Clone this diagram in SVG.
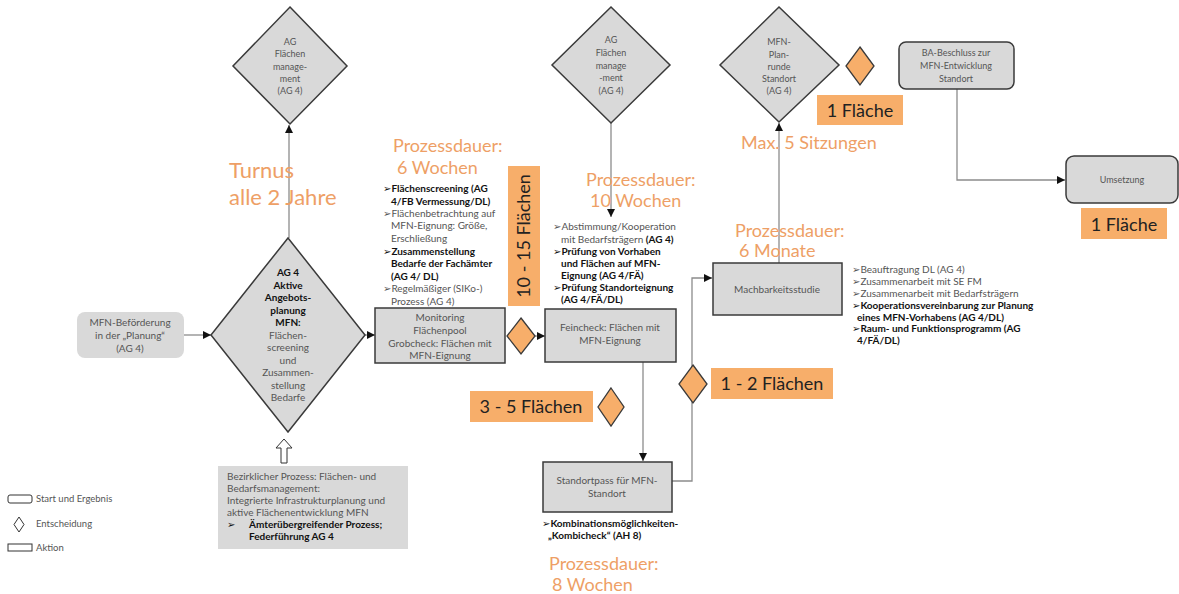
<svg xmlns="http://www.w3.org/2000/svg" width="1179" height="594" viewBox="0 0 1179 594">
<style>
text{font-family:Lato,"DejaVu Sans",sans-serif}
.bx{fill:#d9d9d9;stroke:#3a3a3a;stroke-width:1.5}
.sb{fill:#d9d9d9}
.dm{fill:#d9d9d9;stroke:#3a3a3a;stroke-width:1.5}
.od{fill:#f7ae6a;stroke:#3a3a3a;stroke-width:1.3}
.or{fill:#f7ae6a}
.t{font-size:10px;fill:#555;text-anchor:middle}
.tb{font-size:10px;fill:#111;font-weight:bold;text-anchor:middle}
.l{font-size:10px;fill:#555}
.lb{font-size:10px;fill:#111;font-weight:bold}
.big{font-size:18px;fill:#ee9f66}
.ot{font-size:18px;fill:#222}
.lg{font-size:9.5px;fill:#555}
.ln{fill:none;stroke:#8c8c8c;stroke-width:1.3}
</style>
<defs>
<marker id="ah" viewBox="0 0 10 10" refX="10" refY="5" markerWidth="8" markerHeight="8" markerUnits="userSpaceOnUse" orient="auto"><path d="M0,0 L10,5 L0,10 z" fill="#111"/></marker>
</defs>

<g id="connectors">
<path class="ln" d="M184,335 H211" marker-end="url(#ah)"/>
<path class="ln" d="M365,335 H375" marker-end="url(#ah)"/>
<path class="ln" d="M289,238 V125" marker-end="url(#ah)"/>
<path class="ln" d="M535,336 H545" marker-end="url(#ah)"/>
<path class="ln" d="M611,123 V217" marker-end="url(#ah)"/>
<path class="ln" d="M643,362 V461" marker-end="url(#ah)"/>
<path class="ln" d="M672,481 H692 V278 H712" marker-end="url(#ah)"/>
<path class="ln" d="M779,263 V123" marker-end="url(#ah)"/>
<path class="ln" d="M957,89 V180 H1065" marker-end="url(#ah)"/>
<polygon points="284,439 292,448 287,448 287,463 281,463 281,448 276,448" fill="#fff" stroke="#333" stroke-width="1"/>
</g>

<g id="start">
<rect class="sb" x="77" y="312" width="107" height="46" rx="8"/>
<text class="t"><tspan x="130" y="326">MFN-Beförderung</tspan><tspan x="130" y="339">in der „Planung“</tspan><tspan x="130" y="352">(AG 4)</tspan></text>
</g>

<g id="diamond-angebot">
<polygon class="dm" points="288,238 365,335 288,432 211,335"/>
<text class="tb"><tspan x="288" y="276">AG 4</tspan><tspan x="288" y="289">Aktive</tspan><tspan x="288" y="301">Angebots-</tspan><tspan x="288" y="314">planung</tspan><tspan x="288" y="326">MFN:</tspan></text>
<text class="t"><tspan x="288" y="339">Flächen-</tspan><tspan x="288" y="351">screening</tspan><tspan x="288" y="364">und</tspan><tspan x="288" y="376">Zusammen-</tspan><tspan x="288" y="389">stellung</tspan><tspan x="288" y="401">Bedarfe</tspan></text>
</g>

<g id="diamond-ag1">
<polygon class="dm" points="290,7 347,66 290,124 233,66"/>
<text class="t" style="font-size:9px"><tspan x="290" y="45">AG</tspan><tspan x="290" y="57">Flächen</tspan><tspan x="290" y="70">manage-</tspan><tspan x="290" y="82">ment</tspan><tspan x="290" y="94">(AG 4)</tspan></text>
</g>

<g id="turnus">
<text class="big" style="font-size:22px" x="229" y="178">Turnus</text>
<text class="big" style="font-size:22px" x="229" y="205">alle 2 Jahre</text>
</g>

<g id="pd6w">
<text class="big" x="393" y="152">Prozessdauer:</text>
<text class="big" x="397" y="174">6 Wochen</text>
</g>

<g id="list1">
<text class="lb" x="383" y="192">➢Flächenscreening (AG</text>
<text class="lb" x="391" y="205">4/FB Vermessung/DL)</text>
<text class="l" x="383" y="217">➢Flächenbetrachtung auf</text>
<text class="l" x="391" y="229">MFN-Eignung: Größe,</text>
<text class="l" x="391" y="242">Erschließung</text>
<text class="lb" x="383" y="255">➢Zusammenstellung</text>
<text class="lb" x="391" y="267">Bedarfe der Fachämter</text>
<text class="lb" x="391" y="280">(AG 4/ DL)</text>
<text class="l" x="383" y="292">➢Regelmäßiger (SIKo-)</text>
<text class="l" x="391" y="305">Prozess (AG 4)</text>
</g>

<g id="monitoring">
<rect class="bx" x="375" y="308" width="130" height="55"/>
<text class="t"><tspan x="440" y="321">Monitoring</tspan><tspan x="440" y="334">Flächenpool</tspan><tspan x="440" y="347">Grobcheck: Flächen mit</tspan><tspan x="440" y="359">MFN-Eignung</tspan></text>
</g>

<g id="f10-15">
<rect class="or" x="508" y="166" width="32" height="140"/>
<text class="ot" transform="translate(530,236) rotate(-90)" text-anchor="middle">10 - 15 Flächen</text>
</g>

<g id="dec1">
<polygon class="od" points="521,318 535,336 521,354 507,336"/>
</g>

<g id="diamond-ag2">
<polygon class="dm" points="611,7 670,65 611,123 552,65"/>
<text class="t" style="font-size:9px"><tspan x="611" y="43">AG</tspan><tspan x="611" y="56">Flächen</tspan><tspan x="611" y="69">manage</tspan><tspan x="611" y="81">-ment</tspan><tspan x="611" y="94">(AG 4)</tspan></text>
</g>

<g id="pd10w">
<text class="big" x="586" y="186">Prozessdauer:</text>
<text class="big" x="590" y="207">10 Wochen</text>
</g>

<g id="list2">
<text class="l" x="553" y="230">➢Abstimmung/Kooperation</text>
<text class="l" x="561" y="243">mit Bedarfsträgern <tspan class="lb">(AG 4)</tspan></text>
<text class="lb" x="553" y="255">➢Prüfung von Vorhaben</text>
<text class="lb" x="561" y="267">und Flächen auf MFN-</text>
<text class="lb" x="561" y="279">Eignung (AG 4/FÄ)</text>
<text class="lb" x="553" y="291">➢Prüfung Standorteignung</text>
<text class="lb" x="561" y="303">(AG 4/FÄ/DL)</text>
</g>

<g id="feincheck">
<rect class="bx" x="545" y="309" width="131" height="53"/>
<text class="t"><tspan x="610" y="331">Feincheck: Flächen mit</tspan><tspan x="610" y="344">MFN-Eignung</tspan></text>
</g>

<g id="f3-5">
<rect class="or" x="470" y="391" width="123" height="31"/>
<text class="ot" x="531" y="413" text-anchor="middle">3 - 5 Flächen</text>
<polygon class="od" points="611,388 624,407 611,426 598,407"/>
</g>

<g id="standortpass">
<rect class="bx" x="543" y="462" width="129" height="50"/>
<text class="t"><tspan x="607" y="484">Standortpass für MFN-</tspan><tspan x="607" y="497">Standort</tspan></text>
</g>

<g id="list3">
<text class="lb" x="542" y="527">➢Kombinationsmöglichkeiten-</text>
<text class="lb" x="548" y="539">„Kombicheck“ (AH 8)</text>
</g>

<g id="pd8w">
<text class="big" x="549" y="570">Prozessdauer:</text>
<text class="big" x="552" y="591">8 Wochen</text>
</g>

<g id="f1-2">
<polygon class="od" points="693,365 707,384 693,403 679,384"/>
<rect class="or" x="711" y="368" width="122" height="31"/>
<text class="ot" x="772" y="390" text-anchor="middle">1 - 2 Flächen</text>
</g>

<g id="machbarkeit">
<rect class="bx" x="713" y="263" width="129" height="52"/>
<text class="t" x="777" y="293">Machbarkeitsstudie</text>
</g>

<g id="pd6m">
<text class="big" x="735" y="237">Prozessdauer:</text>
<text class="big" x="739" y="257">6 Monate</text>
</g>

<g id="list4">
<text class="l" x="852" y="273">➢Beauftragung DL (AG 4)</text>
<text class="l" x="852" y="285">➢Zusammenarbeit mit SE FM</text>
<text class="l" x="852" y="297">➢Zusammenarbeit mit Bedarfsträgern</text>
<text class="lb" x="852" y="309">➢Kooperationsvereinbarung zur Planung</text>
<text class="lb" x="857" y="321">eines MFN-Vorhabens (AG 4/DL)</text>
<text class="lb" x="852" y="332">➢Raum- und Funktionsprogramm (AG</text>
<text class="lb" x="857" y="344">4/FÄ/DL)</text>
</g>

<g id="diamond-planrunde">
<polygon class="dm" points="779,7 839,65 779,122 720,65"/>
<text class="t" style="font-size:9px"><tspan x="779" y="45">MFN-</tspan><tspan x="779" y="58">Plan-</tspan><tspan x="779" y="70">runde</tspan><tspan x="779" y="82">Standort</tspan><tspan x="779" y="94">(AG 4)</tspan></text>
</g>

<g id="f1a">
<polygon class="od" points="860,47 874,66 860,85 846,66"/>
<rect class="or" x="817" y="95" width="86" height="30"/>
<text class="ot" x="860" y="117" text-anchor="middle">1 Fläche</text>
</g>

<g id="max5">
<text class="big" x="741" y="149">Max. 5 Sitzungen</text>
</g>

<g id="ba">
<rect class="bx" x="899" y="42" width="115" height="47" rx="7"/>
<text class="t" style="font-size:9px"><tspan x="956" y="56">BA-Beschluss zur</tspan><tspan x="956" y="69">MFN-Entwicklung</tspan><tspan x="956" y="82">Standort</tspan></text>
</g>

<g id="umsetzung">
<rect class="bx" x="1066" y="156" width="112" height="47" rx="8"/>
<text class="t" style="font-size:9px" x="1122" y="183">Umsetzung</text>
<rect class="or" x="1081" y="208" width="86" height="31"/>
<text class="ot" x="1124" y="231" text-anchor="middle">1 Fläche</text>
</g>

<g id="bezirk">
<rect class="sb" x="218" y="466" width="190" height="83"/>
<text class="l" x="227" y="480">Bezirklicher Prozess: Flächen- und</text>
<text class="l" x="227" y="492">Bedarfsmanagement:</text>
<text class="l" x="227" y="504">Integrierte Infrastrukturplanung und</text>
<text class="l" x="227" y="516">aktive Flächenentwicklung MFN</text>
<text class="lb" x="227" y="528">➢</text>
<text class="lb" x="249" y="528">Ämterübergreifender Prozess;</text>
<text class="lb" x="249" y="540">Federführung AG 4</text>
</g>

<g id="legend">
<rect x="8" y="495" width="24" height="8" rx="2" fill="#fff" stroke="#333" stroke-width="1"/>
<text class="lg" x="36" y="502">Start und Ergebnis</text>
<polygon points="19,517 24,524.5 19,532 14,524.5" fill="#fff" stroke="#333" stroke-width="1"/>
<text class="lg" x="36" y="527">Entscheidung</text>
<rect x="8" y="544" width="24" height="7" fill="#fff" stroke="#333" stroke-width="1"/>
<text class="lg" x="36" y="551">Aktion</text>
</g>
</svg>
